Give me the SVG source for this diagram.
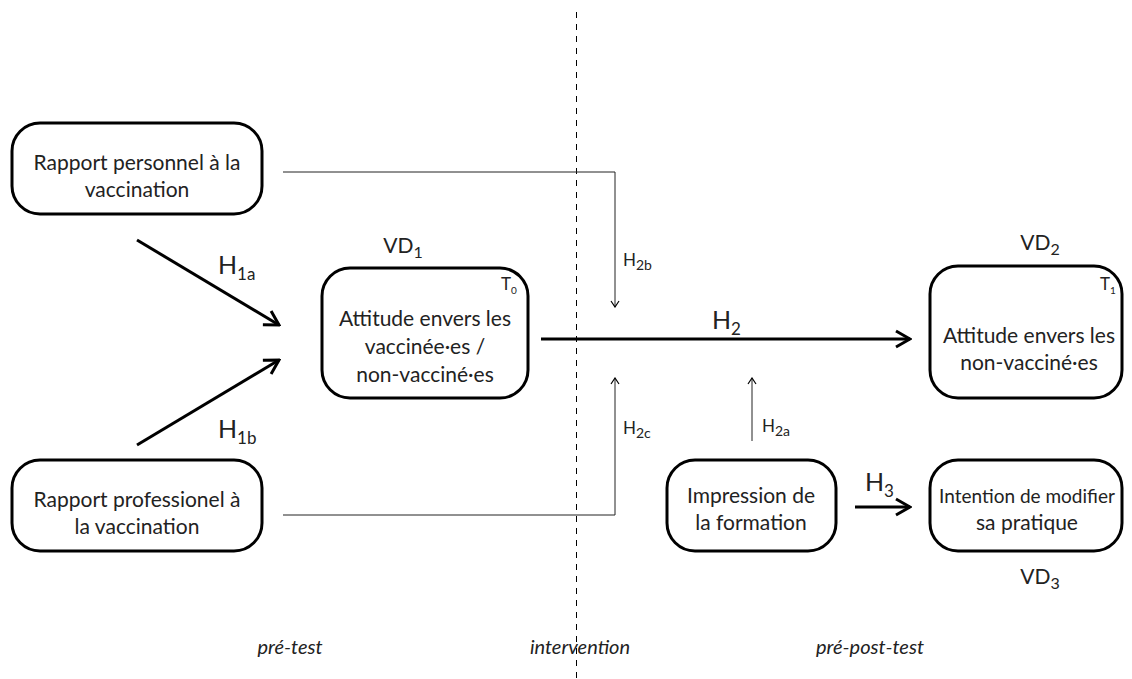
<svg xmlns="http://www.w3.org/2000/svg" width="1132" height="679" viewBox="0 0 1132 679">
<defs>
<style>
.box{fill:#fff;stroke:#000;stroke-width:3}
.t{font-family:Lato,"Open Sans",sans-serif;font-size:21px;fill:#222;text-anchor:middle}
.h{font-family:Lato,"Open Sans",sans-serif;font-size:25px;fill:#222}
.hs{font-family:Lato,"Open Sans",sans-serif;font-size:17px;fill:#222}
.tm{font-family:Lato,"Open Sans",sans-serif;font-size:17px;fill:#222}
.it{font-family:Lato,"Open Sans",sans-serif;font-size:20px;font-style:italic;fill:#222;text-anchor:middle}
.thick{stroke:#000;stroke-width:3;fill:none}
.thin{stroke:#222;stroke-width:1;fill:none}
</style>
<marker id="big" markerUnits="userSpaceOnUse" viewBox="0 0 20 20" refX="18" refY="10" markerWidth="20" markerHeight="20" orient="auto"><path d="M4,2 L18,10 L4,18" fill="none" stroke="#000" stroke-width="3"/></marker>
<marker id="small" markerUnits="userSpaceOnUse" viewBox="0 0 12 12" refX="11" refY="6" markerWidth="12" markerHeight="12" orient="auto"><path d="M5,2 L11,6 L5,10" fill="none" stroke="#000" stroke-width="1.2"/></marker>
</defs>
<rect width="1132" height="679" fill="#fff"/>
<line x1="576.5" y1="12" x2="576.5" y2="679" stroke="#000" stroke-width="1" stroke-dasharray="6,6"/>
<g id="connectors">
<path class="thin" d="M283,172 H615 V307" marker-end="url(#small)"/>
<path class="thin" d="M283,515 H615 V378" marker-end="url(#small)"/>
<path class="thin" d="M752,441 V378" marker-end="url(#small)"/>
<path class="thick" d="M137,240 L279,325" marker-end="url(#big)"/>
<path class="thick" d="M137,445 L279,360" marker-end="url(#big)"/>
<path class="thick" d="M541,339 H910" marker-end="url(#big)"/>
<path class="thick" d="M855,507 H910" marker-end="url(#big)"/>
<text class="h" x="218" y="274">H<tspan class="hs" dy="6">1a</tspan></text>
<text class="h" x="218" y="438">H<tspan class="hs" dy="6">1b</tspan></text>
<text class="tm" x="623" y="266">H<tspan dy="4" style="font-size:14px">2b</tspan></text>
<text class="tm" x="623" y="434">H<tspan dy="4" style="font-size:14px">2c</tspan></text>
<text class="tm" x="762" y="432">H<tspan dy="4" style="font-size:14px">2a</tspan></text>
<text class="h" x="712" y="329">H<tspan class="hs" dy="6">2</tspan></text>
<text class="h" x="865" y="491">H<tspan class="hs" dy="6">3</tspan></text>
</g>
<g id="n1"><rect class="box" x="12" y="123" width="250" height="91" rx="28"/>
<text class="t" x="137" y="170">Rapport personnel à la</text><text class="t" x="137" y="197">vaccination</text></g>
<g id="n2"><rect class="box" x="12" y="460" width="250" height="91" rx="28"/>
<text class="t" x="137" y="507">Rapport professionel à</text><text class="t" x="137" y="534">la vaccination</text></g>
<g id="n3"><rect class="box" x="322" y="268" width="206" height="130" rx="28"/>
<text class="t" x="425" y="326">Attitude envers les</text><text class="t" x="425" y="354">vaccinée·es /</text><text class="t" x="425" y="382">non-vacciné·es</text>
<text class="tm" x="501" y="290">T<tspan dy="4" style="font-size:10px">0</tspan></text>
<text class="t" x="403" y="253">VD<tspan dy="5" style="font-size:16px">1</tspan></text></g>
<g id="n4"><rect class="box" x="930" y="266" width="192" height="132" rx="28"/>
<text class="t" x="1029" y="343">Attitude envers les</text><text class="t" x="1029" y="370">non-vacciné·es</text>
<text class="tm" x="1100" y="290">T<tspan dy="4" style="font-size:10px">1</tspan></text>
<text class="t" x="1040" y="250">VD<tspan dy="5" style="font-size:16px">2</tspan></text></g>
<g id="n5"><rect class="box" x="667" y="460" width="169" height="91" rx="28"/>
<text class="t" x="751" y="503">Impression de</text><text class="t" x="751" y="530">la formation</text></g>
<g id="n6"><rect class="box" x="930" y="460" width="192" height="91" rx="28"/>
<text class="t" x="1027" y="503" style="font-size:19px">Intention de modifier</text><text class="t" x="1027" y="530">sa pratique</text>
<text class="t" x="1040" y="584">VD<tspan dy="5" style="font-size:16px">3</tspan></text></g>
<text class="it" x="290" y="654">pré-test</text>
<text class="it" x="580" y="654">intervention</text>
<text class="it" x="870" y="654">pré-post-test</text>
</svg>
